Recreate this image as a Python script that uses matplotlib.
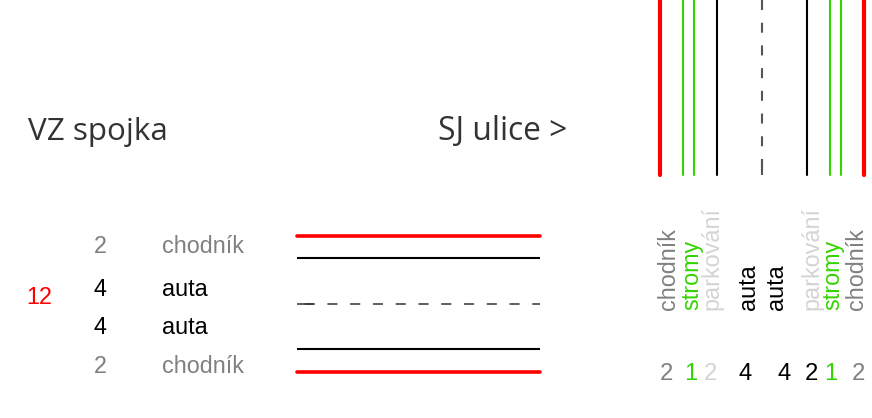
import matplotlib
matplotlib.use("Agg")
import matplotlib.pyplot as plt
import matplotlib.transforms as mtransforms
import numpy as np

# ---------------- data ----------------
title_left = "VZ spojka"
title_right = "SJ ulice >"

# VZ spojka (horizontal cross-section, top to bottom)
vz_labels = ["chodník", "auta", "auta", "chodník"]
vz_widths = [2, 4, 4, 2]
vz_total = 12
# boundary line kinds between / around segments
vz_lines = ["edge", "curb", "center", "curb", "edge"]
vz_line_pos = [0, 2, 6, 10, 12]

# SJ ulice (vertical cross-section, left to right)
sj_labels = ["chodník", "stromy", "parkování", "auta", "auta", "parkování", "stromy", "chodník"]
sj_widths = [2, 1, 2, 4, 4, 2, 1, 2]
sj_lines = ["edge", "tree", "tree", "curb", "center", "curb", "tree", "tree", "edge"]
sj_line_pos = [0, 2, 3, 5, 9, 13, 15, 16, 18]

# ---------------- styles ----------------
RED = "#ff0000"
GREEN = "#33d400"
GRAY = "#808080"
LIGHT = "#d4d4d4"
BLACK = "#000000"
DASH = "#555555"

cat_color = {"chodník": GRAY, "auta": BLACK, "stromy": GREEN, "parkování": LIGHT}
sj_num_colors = [GRAY, GREEN, LIGHT, BLACK, BLACK, BLACK, GREEN, GRAY]

W, H = 872, 418
fig = plt.figure(figsize=(W / 100, H / 100), dpi=100)
fig.patch.set_facecolor("white")

def fx(px):
    return px / W

def fy(py):  # from top pixel to figure fraction
    return (H - py) / H

LABEL_FONT = ["Liberation Sans", "DejaVu Sans"]
TITLE_FONT = ["Open Sans", "DejaVu Sans"]
FS = 16.8
FS_NUM = 17.2

# ---------------- titles ----------------
fig.text(fx(27.5), fy(140), title_left, fontsize=22.6, color="#333333",
         family=TITLE_FONT, ha="left", va="baseline")
fig.text(fx(437.5), fy(140), title_right, fontsize=22.9, color="#333333",
         family=TITLE_FONT, ha="left", va="baseline")

# ---------------- left: VZ spojka ----------------
axL = fig.add_axes([fx(297), fy(371.7), fx(539.5) - fx(297), fy(235.7) - fy(371.7)])
axL.set_xlim(0, 1)
axL.set_ylim(vz_total, 0)
axL.axis("off")
for kind, y in zip(vz_lines, vz_line_pos):
    if kind == "edge":
        axL.plot([0, 1], [y, y], color=RED, lw=2.6, solid_capstyle="round", clip_on=False)
    elif kind == "curb":
        axL.plot([0, 1], [y, y], color=BLACK, lw=1.5, solid_capstyle="butt", clip_on=False)
    else:
        axL.plot([0, 1], [y, y], color="#333333", lw=1.1, dash_capstyle="butt",
                 linestyle=(9.9, (6.6, 8.3)), clip_on=False)
        axL.plot([0, 0.07], [y, y], color="#333333", lw=1.1, solid_capstyle="butt",
                 clip_on=False)

row_baseline_px = [252.7, 296.0, 334.3, 372.7]
for lab, w, yb in zip(vz_labels, vz_widths, row_baseline_px):
    c = cat_color[lab]
    fig.text(fx(100), fy(yb), str(w), color=c, fontsize=FS, family=LABEL_FONT,
             ha="center", va="baseline")
    fig.text(fx(161.5), fy(yb), lab, color=c, fontsize=FS, family=LABEL_FONT,
             ha="left", va="baseline")
fig.text(fx(39.5), fy(304.3), str(vz_total), color=RED, fontsize=FS,
         family=LABEL_FONT, ha="center", va="baseline")

# ---------------- right: SJ ulice ----------------
sj_total = sum(sj_widths)
axR = fig.add_axes([fx(660), fy(175), fx(864) - fx(660), fy(0) - fy(175)])
axR.set_xlim(0, sj_total)
axR.set_ylim(0, 1)
axR.axis("off")
for kind, x in zip(sj_lines, sj_line_pos):
    if kind == "edge":
        axR.plot([x, x], [1.05, 0], color=RED, lw=3.0, solid_capstyle="round", clip_on=False)
    elif kind == "tree":
        axR.plot([x, x], [1.05, 0], color=GREEN, lw=1.5, solid_capstyle="round", clip_on=False)
    elif kind == "curb":
        axR.plot([x, x], [1.05, 0], color=BLACK, lw=1.5, solid_capstyle="round", clip_on=False)
    else:
        axR.plot([x, x], [1, 0], color=DASH, lw=1.5, dash_capstyle="butt",
                 linestyle=(0, (4.8, 6.1)), clip_on=False)
        axR.plot([x, x], [0.09, 0], color=DASH, lw=1.5, solid_capstyle="butt",
                 clip_on=False)

centers = np.cumsum([0] + sj_widths[:-1]) + np.array(sj_widths) / 2
label_nudge_px = [-3, 3.7, 6.7, 9, -8, -7, -2.7, 4]
num_nudge_px = [-5, 2.7, 5.4, 5.3, -1, -7, -5, 5.6]
blend = mtransforms.blended_transform_factory(axR.transData, fig.transFigure)
for lab, cx, dn in zip(sj_labels, centers, label_nudge_px):
    t = blend + mtransforms.ScaledTranslation(dn / 100, 0, fig.dpi_scale_trans)
    fig.text(cx, fy(309.5), lab, transform=t, rotation=90, color=cat_color[lab],
             fontsize=FS, family=LABEL_FONT, ha="center", va="bottom")
for w, cx, dn, c in zip(sj_widths, centers, num_nudge_px, sj_num_colors):
    t = blend + mtransforms.ScaledTranslation(dn / 100, 0, fig.dpi_scale_trans)
    fig.text(cx, fy(379.5), str(w), transform=t, color=c,
             fontsize=FS_NUM, family=LABEL_FONT, ha="center", va="baseline")

fig.savefig("out.png", dpi=100, facecolor="white")
